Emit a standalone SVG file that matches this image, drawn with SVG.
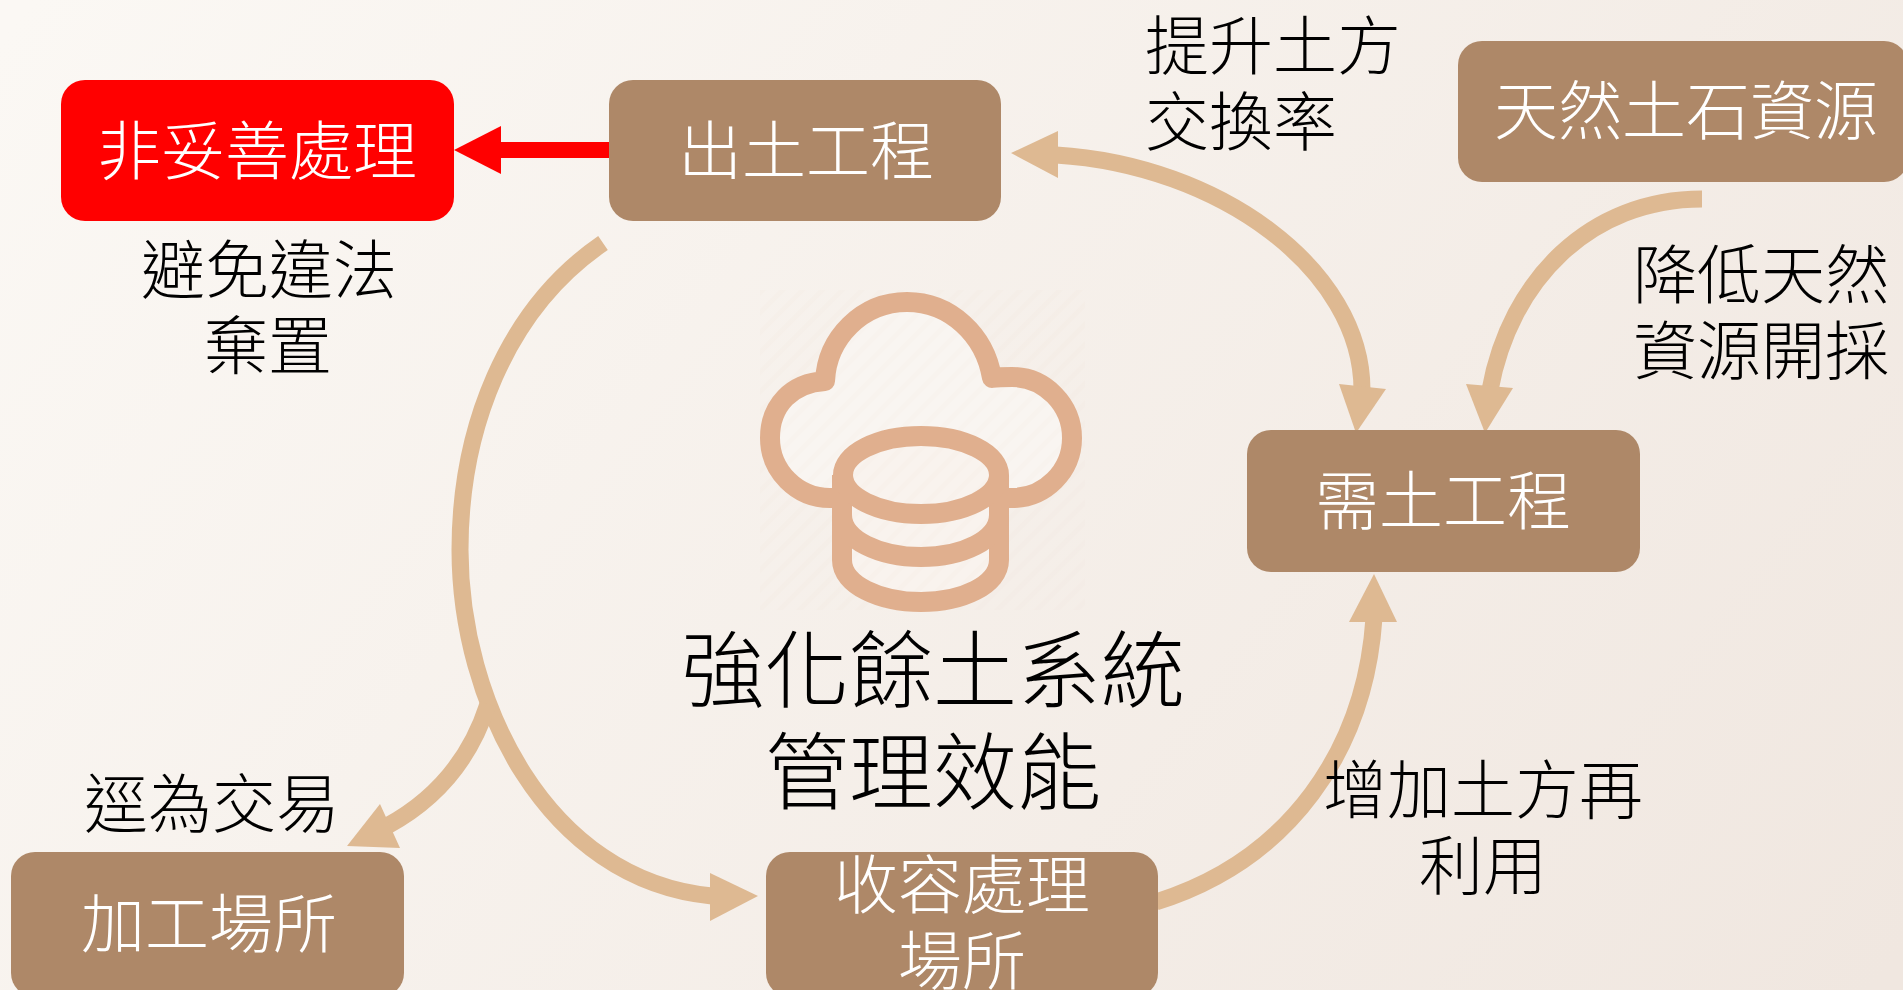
<svg xmlns="http://www.w3.org/2000/svg" width="1903" height="990" viewBox="0 0 1903 990">
<style>
.bg{fill:url(#bg)}
.n{fill:#AE8868}
.t,.w,.big{font-family:"Noto Sans CJK TC","Noto Sans CJK SC",sans-serif;font-weight:300;font-size:64px}
.t{fill:#000}
.w{fill:#fff}
.m{text-anchor:middle}
.big{font-size:84px;fill:#000;text-anchor:middle}
.c{fill:none;stroke:#DEB992;stroke-width:17}
.h{fill:#DEB992}
.i{fill:none;stroke:#E0AF8E;stroke-width:20;stroke-linejoin:round;stroke-linecap:butt}
</style>
<defs>
<linearGradient id="bg" gradientUnits="userSpaceOnUse" x1="130" y1="-130" x2="1773" y2="1120">
<stop offset="0" stop-color="#FBF8F4"/><stop offset="1" stop-color="#F0E7E0"/>
</linearGradient>
<pattern id="st" width="14" height="14" patternUnits="userSpaceOnUse" patternTransform="rotate(-45)">
<rect width="14" height="5" fill="#E0AF8E" opacity=".022"/>
</pattern>
</defs>
<rect class="bg" width="1903" height="990"/>
<g id="connectors">
<path d="M609 150H495" fill="none" stroke="#FF0000" stroke-width="16"/>
<polygon points="454,150 501,126 501,174" fill="#FF0000"/>
<path class="c" d="M603 243C505 310 460 430 460 550C460 700 545 880 712 896"/>
<polygon class="h" points="758,896 710,873 710,921"/>
<path class="c" d="M488 704C470 760 435 800 387 826"/>
<polygon class="h" points="347,846 380,804 400,848"/>
<path class="c" d="M1056 155C1220 165 1362 270 1362 390"/>
<polygon class="h" points="1011,153 1058,131 1058,178"/>
<polygon class="h" points="1356,433 1339,384 1386,389"/>
<path class="c" d="M1702 199C1590 199 1510 280 1490 390"/>
<polygon class="h" points="1485,433 1466,384 1513,388"/>
<path class="c" d="M1156 902C1290 860 1365 750 1374 618"/>
<polygon class="h" points="1374,574 1349,622 1397,622"/>
</g>
<g id="icon">
<path class="i" style="fill:#F9F5F1" d="M832 498H830C797 498 770 471 770 438C770 405 792 383 825 381C827 338 862 302 907 302C950 302 985 335 992 378C998 377 1004 377 1012 377C1045 377 1072 405 1072 438C1072 471 1045 498 1012 498H1000"/>
<path class="i" style="fill:#F9F3EE" d="M842 475V560C842 585 880 602 921 602C962 602 999 585 999 560V475"/>
<path class="i" d="M842 515C842 540 880 557 921 557C962 557 999 540 999 515"/>
<ellipse class="i" style="fill:#F9F3EE" cx="921" cy="475" rx="78" ry="39"/>
<rect x="760" y="290" width="325" height="320" fill="url(#st)"/>
</g>
<g id="title"><text class="big" x="933" y="701">強化餘土系統</text><text class="big" x="933" y="803">管理效能</text></g>
<g id="n1"><rect class="n" x="61" y="80" width="393" height="141" rx="24" style="fill:#FF0000"/><text class="w m" x="257" y="174">非妥善處理</text></g>
<g id="n2"><rect class="n" x="609" y="80" width="392" height="141" rx="24"/><text class="w m" x="806" y="174">出土工程</text></g>
<g id="n3"><rect class="n" x="1458" y="41" width="450" height="141" rx="24"/><text class="w m" x="1686" y="134">天然土石資源</text></g>
<g id="n4"><rect class="n" x="1247" y="430" width="393" height="142" rx="24"/><text class="w m" x="1443" y="524">需土工程</text></g>
<g id="n5"><rect class="n" x="11" y="852" width="393" height="145" rx="24"/><text class="w m" x="209" y="947">加工場所</text></g>
<g id="n6"><rect class="n" x="766" y="852" width="392" height="145" rx="24"/><text class="w m" x="962" y="908">收容處理</text><text class="w m" x="962" y="984">場所</text></g>
<g id="labels">
<text class="t m" x="269" y="293">避免違法</text><text class="t m" x="268" y="369">棄置</text>
<text class="t" x="1145" y="69">提升土方</text><text class="t" x="1145" y="145">交換率</text>
<text class="t" x="1633" y="298">降低天然</text><text class="t" x="1633" y="374">資源開採</text>
<text class="t m" x="212" y="827">逕為交易</text>
<text class="t m" x="1483" y="813">增加土方再</text><text class="t m" x="1483" y="889">利用</text>
</g>
</svg>
